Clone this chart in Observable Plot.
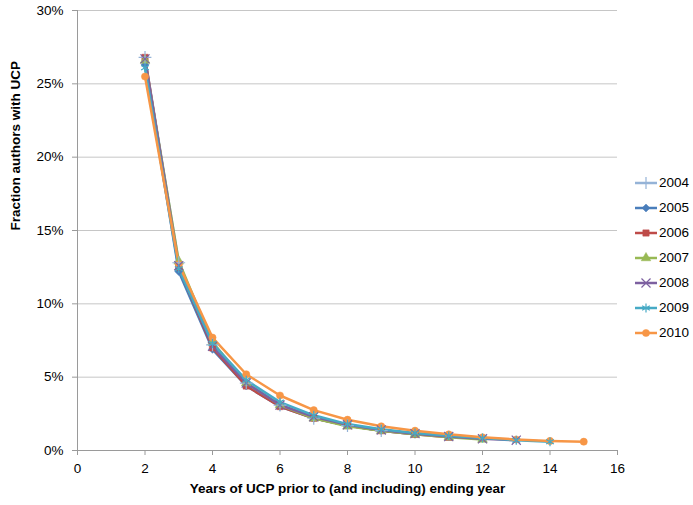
<!DOCTYPE html>
<html>
<head>
<meta charset="utf-8">
<script src="https://cdn.jsdelivr.net/npm/d3@7"></script>
<script src="https://cdn.jsdelivr.net/npm/@observablehq/plot@0.6"></script>
<style>
  html, body { margin: 0; padding: 0; background: #fff; }
  #wrap { position: relative; width: 693px; height: 505px; font-family: "Liberation Sans", Arial, sans-serif; }
  #legend { position: absolute; left: 634px; top: 170px; font-size: 13.5px; color: #000; }
  #legend .row { display: flex; align-items: center; height: 25px; }
  #legend svg { margin-right: 1px; }
</style>
</head>
<body>
<div id="wrap"></div>
<script>
// ---- data ----
const years = ["2004", "2005", "2006", "2007", "2008", "2009", "2010"];
const yearsOfUCP = [2, 3, 4, 5, 6, 7, 8, 9, 10, 11, 12, 13, 14, 15];
const s2004 = [26.8, 12.8, 7.2, 4.6, 3.1, 2.2, 1.7, 1.35];
const s2005 = [26.3, 12.2, 6.9, 4.4, 3.0, 2.2, 1.7, 1.35, 1.1];
const s2006 = [26.8, 12.5, 7.0, 4.4, 3.0, 2.2, 1.7, 1.35, 1.1, 0.9];
const s2007 = [26.6, 12.9, 7.4, 4.6, 3.1, 2.2, 1.65, 1.35, 1.1, 0.9, 0.75];
const s2008 = [26.7, 12.6, 7.1, 4.6, 3.1, 2.3, 1.75, 1.4, 1.15, 0.95, 0.8, 0.7];
const s2009 = [26.1, 12.4, 7.3, 4.8, 3.3, 2.4, 1.8, 1.45, 1.2, 1.0, 0.85, 0.7, 0.6];
const s2010 = [25.5, 12.7, 7.7, 5.2, 3.75, 2.75, 2.1, 1.65, 1.35, 1.1, 0.9, 0.75, 0.65, 0.6];
const xTicks = [0, 2, 4, 6, 8, 10, 12, 14, 16];
const yTicks = [0, 0.05, 0.10, 0.15, 0.20, 0.25, 0.30];
const xTitle = "Years of UCP prior to (and including) ending year";
const yTitle = "Fraction authors with UCP";

// ---- styles ----
const colors = ["#95B3D7", "#4A7EBB", "#BE4B48", "#98B954", "#7D60A0", "#46AAC5", "#F79646"];
const symbols = ["plus", "diamond2", "square", "triangle", "times", "asterisk", "circle"];
const filled = {"2004": false, "2005": true, "2006": true, "2007": true, "2008": false, "2009": false, "2010": true};

const seriesList = [s2004, s2005, s2006, s2007, s2008, s2009, s2010];
const table = [];
years.forEach((yr, i) => {
  seriesList[i].forEach((v, j) => table.push({year: yr, x: yearsOfUCP[j], v: v / 100}));
});

const font = "Liberation Sans, Arial, sans-serif";

const chart = Plot.plot({
  width: 693,
  height: 505,
  marginLeft: 77,
  marginRight: 76,
  marginTop: 10,
  marginBottom: 55,
  style: {fontFamily: font, fontSize: "13.5px", color: "#000", background: "#fff"},
  x: {domain: [0, 16]},
  y: {domain: [0, 0.30]},
  color: {domain: years, range: colors},
  symbol: {domain: years, range: symbols},
  marks: [
    Plot.gridY(yTicks, {stroke: "#c6c6c6", strokeOpacity: 1, strokeWidth: 1}),
    Plot.ruleY([0], {stroke: "#9a9a9a"}),
    Plot.ruleX([0], {stroke: "#9a9a9a"}),
    Plot.axisY({ticks: yTicks, tickFormat: d3.format(".0%"), tickSize: 5, tickPadding: 9, label: null, stroke: "#9a9a9a", fontSize: 13.5}),
    Plot.axisX({ticks: xTicks, tickSize: 5, tickPadding: 8, label: null, stroke: "#9a9a9a", fontSize: 13.5}),
    Plot.line(table, {x: "x", y: "v", z: "year", stroke: "year", strokeWidth: 2.5, curve: "linear"}),
    Plot.dot(table.filter(d => filled[d.year]), {x: "x", y: "v", symbol: "year", fill: "year", stroke: "year", strokeWidth: 0.5, r: 3.6}),
    Plot.dot(table.filter(d => !filled[d.year]), {x: "x", y: "v", symbol: "year", stroke: "year", fill: "none", strokeWidth: 1.2, r: 4.2}),
    Plot.text([xTitle], {frameAnchor: "bottom", dy: 42, fontWeight: "bold", fontSize: 13.5, fill: "#000"}),
    Plot.text([yTitle], {frameAnchor: "left", dx: -62, rotate: -90, fontWeight: "bold", fontSize: 13.5, fill: "#000"})
  ]
});

const wrap = document.getElementById("wrap");
wrap.appendChild(chart);

// ---- legend (HTML) ----
const legend = document.createElement("div");
legend.id = "legend";
const symMap = {plus: d3.symbolPlus, diamond2: d3.symbolDiamond2, square: d3.symbolSquare, triangle: d3.symbolTriangle, times: d3.symbolTimes, asterisk: d3.symbolAsterisk, circle: d3.symbolCircle};
years.forEach((yr, i) => {
  const row = document.createElement("div");
  row.className = "row";
  const s = d3.create("svg").attr("width", 24).attr("height", 12);
  s.append("line").attr("x1", 1).attr("x2", 23).attr("y1", 6).attr("y2", 6).attr("stroke", colors[i]).attr("stroke-width", 2.5);
  const sym = d3.symbol(symMap[symbols[i]], filled[yr] ? 40 : 55)();
  s.append("path").attr("d", sym).attr("transform", "translate(12,6)")
    .attr("fill", filled[yr] ? colors[i] : "none")
    .attr("stroke", colors[i]).attr("stroke-width", filled[yr] ? 0.5 : 1.2);
  row.appendChild(s.node());
  const t = document.createElement("span");
  t.textContent = yr;
  row.appendChild(t);
  legend.appendChild(row);
});
wrap.appendChild(legend);
</script>
</body>
</html>
